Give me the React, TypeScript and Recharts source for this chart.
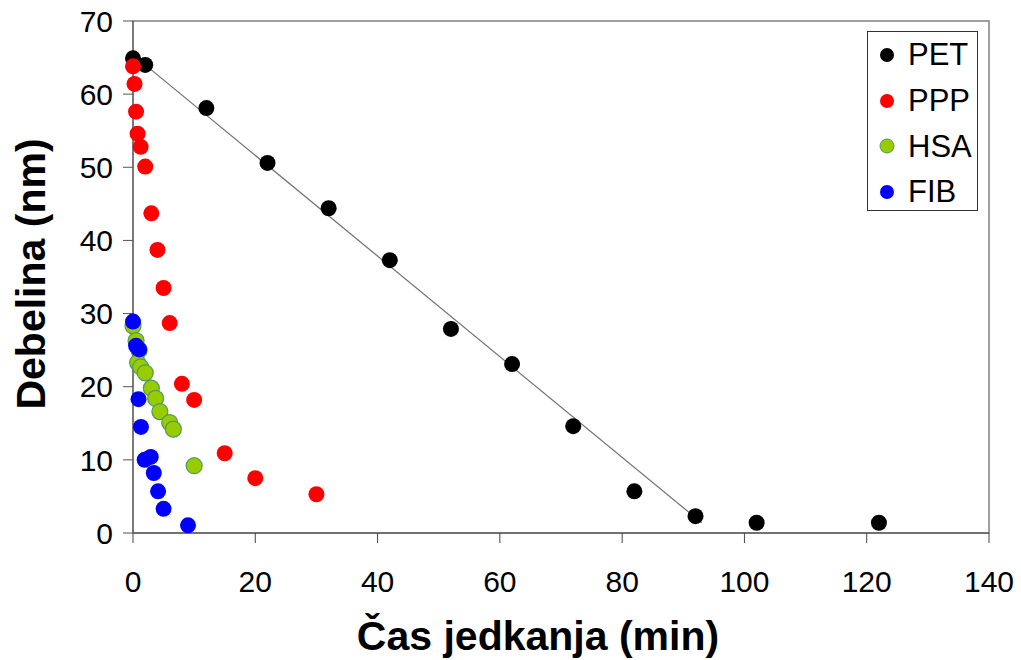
import React from 'react';
import { ScatterChart, Scatter, XAxis, YAxis, ReferenceArea } from 'recharts';

const petX = [0, 2, 12, 22, 32, 42, 52, 62, 72, 82, 92, 102, 122];
const petY = [64.9, 64.0, 58.1, 50.6, 44.4, 37.3, 27.9, 23.1, 14.6, 5.7, 2.3, 1.4, 1.4];

const pppX = [0, 0.25, 0.5, 0.75, 1.25, 2, 3, 4, 5, 6, 8, 10, 15, 20, 30];
const pppY = [63.8, 61.4, 57.6, 54.6, 52.8, 50.1, 43.7, 38.7, 33.5, 28.7, 20.4, 18.2, 10.9, 7.5, 5.3];

const hsaX = [0, 0.5, 1, 0.75, 1.25, 2, 3, 3.7, 4.4, 6, 6.6, 10];
const hsaY = [28.3, 26.3, 25.0, 23.3, 22.7, 21.9, 19.8, 18.4, 16.6, 15.1, 14.2, 9.2];

const fibX = [0, 0.5, 1, 0.9, 1.3, 1.9, 2.9, 3.4, 4.1, 5, 9];
const fibY = [28.9, 25.6, 25.1, 18.3, 14.5, 10.0, 10.4, 8.2, 5.7, 3.3, 1.05];

// linear fit through the PET points
const fitX = [2, 93];
const fitY = [64.0, 1.4];

const xTicks = [0, 20, 40, 60, 80, 100, 120, 140];
const yTicks = [0, 10, 20, 30, 40, 50, 60, 70];

const toPoints = (xs: number[], ys: number[]) => xs.map((x, i) => ({ x, y: ys[i] }));

const series = [
  { name: 'PET', data: toPoints(petX, petY), fill: '#000000', stroke: 'none' },
  { name: 'PPP', data: toPoints(pppX, pppY), fill: '#ff0000', stroke: 'none' },
  { name: 'HSA', data: toPoints(hsaX, hsaY), fill: '#99cc00', stroke: '#4e9a5e' },
  { name: 'FIB', data: toPoints(fibX, fibY), fill: '#0000ff', stroke: 'none' },
];

const FONT = '"Liberation Sans", Arial, sans-serif';

const dot = (fill: string, stroke: string) => (p: any) => (
  <circle cx={p.cx} cy={p.cy} r={8} fill={fill} stroke={stroke} strokeWidth={stroke === 'none' ? 0 : 1.2} />
);

const LegendBox = () => (
  <div
    style={{
      position: 'absolute',
      left: 867,
      top: 31,
      width: 111,
      height: 180,
      border: '1px solid #333',
      background: '#fff',
      boxSizing: 'border-box',
      paddingTop: 0,
      fontFamily: FONT,
    }}
  >
    {series.map((s) => (
      <div key={s.name} style={{ display: 'flex', alignItems: 'center', height: 45.7 }}>
        <svg width={40} height={20} style={{ flexShrink: 0 }}>
          <circle cx={19} cy={10} r={7} fill={s.fill} stroke={s.stroke} strokeWidth={s.stroke === 'none' ? 0 : 1} />
        </svg>
        <span style={{ fontSize: 31, color: '#000', lineHeight: '31px' }}>{s.name}</span>
      </div>
    ))}
  </div>
);

export default function App() {
  return (
    <div style={{ position: 'absolute', left: 0, top: 0, width: 1021, height: 660, background: '#fff' }}>
      <ScatterChart width={1021} height={660} margin={{ top: 21, right: 32, left: 0, bottom: 0 }}>
        <XAxis
          type="number"
          dataKey="x"
          domain={[0, 140]}
          ticks={xTicks}
          height={127}
          stroke="#444"
          tickSize={10}
          tickMargin={28}
          tick={{ fontSize: 30, fill: '#000', fontFamily: FONT }}
          label={() => (
            <text x={538} y={650} textAnchor="middle" fontSize={41} fontWeight="bold" fontFamily={FONT} fill="#000">
              Čas jedkanja (min)
            </text>
          )}
        />
        <YAxis
          type="number"
          dataKey="y"
          domain={[0, 70]}
          ticks={yTicks}
          width={133}
          stroke="#555"
          tickSize={10}
          tickMargin={10}
          tick={{ fontSize: 30, fill: '#000', fontFamily: FONT }}
          label={() => (
            <text
              x={45}
              y={274}
              transform="rotate(-90 45 274)"
              textAnchor="middle"
              fontSize={41}
              fontWeight="bold"
              fontFamily={FONT}
              fill="#000"
            >
              Debelina (nm)
            </text>
          )}
        />
        <ReferenceArea x1={0} x2={140} y1={0} y2={70} fill="none" stroke="#808080" strokeWidth={1.5} />
        <Scatter
          name="fit"
          data={toPoints(fitX, fitY)}
          line={{ stroke: '#707070', strokeWidth: 1.2 }}
          shape={() => <g />}
          legendType="none"
          isAnimationActive={false}
        />
        {series.map((s) => (
          <Scatter
            key={s.name}
            name={s.name}
            data={s.data}
            shape={dot(s.fill, s.stroke)}
            isAnimationActive={false}
          />
        ))}
      </ScatterChart>
      <LegendBox />
    </div>
  );
}
